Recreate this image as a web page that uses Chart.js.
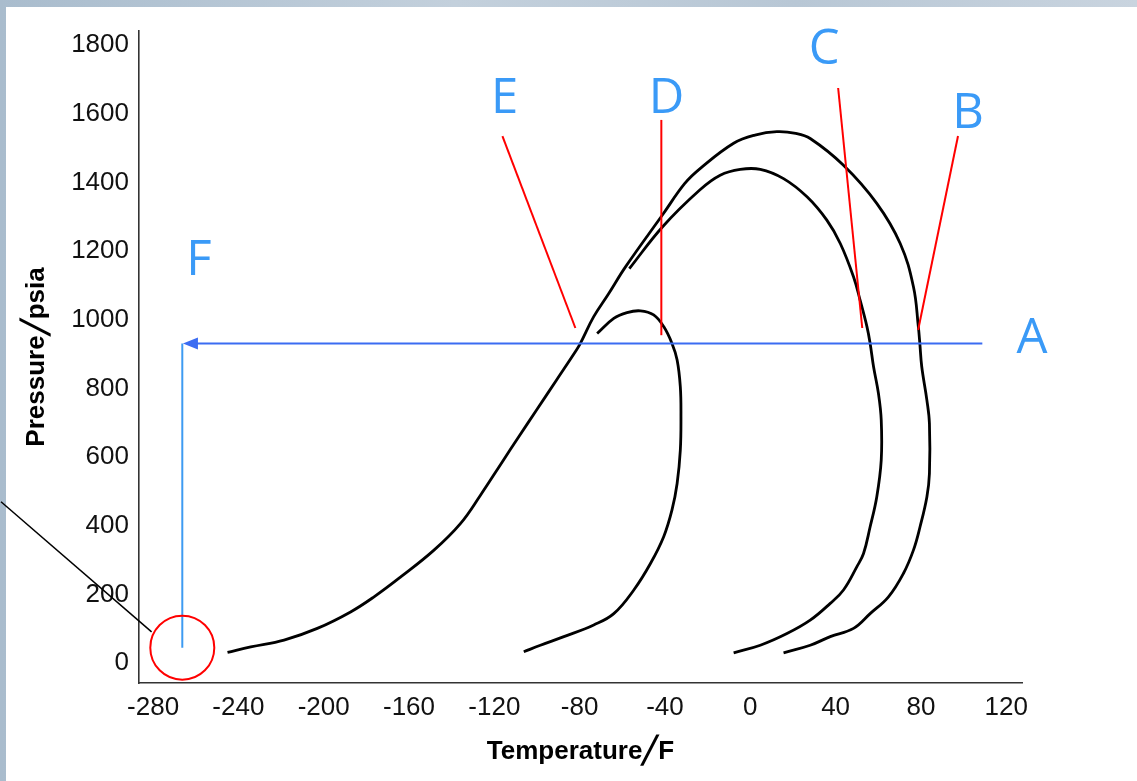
<!DOCTYPE html>
<html><head><meta charset="utf-8">
<script src="https://cdn.jsdelivr.net/npm/chart.js@4/dist/chart.umd.min.js"></script>
<style>
html,body{margin:0;padding:0;width:1137px;height:781px;overflow:hidden;}
body{background:linear-gradient(90deg,#a9bccd 0%,#c3d0dc 40%,#b8c7d5 70%,#c9d4df 100%);}
#panel{position:absolute;left:6px;top:7px;right:0;bottom:0;background:#fff;}
#c{position:absolute;left:0;top:0;}
</style></head><body>
<div id="panel"></div>
<canvas id="c" width="1137" height="781"></canvas>
<script>
// ---- tick labels ----
const xTickValues = [-280, -240, -200, -160, -120, -80, -40, 0, 40, 80, 120];
const yTickValues = [0, 200, 400, 600, 800, 1000, 1200, 1400, 1600, 1800];

// ---- curve E-B (outer envelope): temperature (F) / pressure (psia) ----
const curveEBTemp = [-245.1, -234.2, -218.6, -203, -187.4, -176.4, -163.9, -148.3, -135.8, -126.5, -116.6, -108.7, -100.2, -90.9, -81.5, -79.6, -73.4, -66.5, -58.5, -41.2, -30.7, -23.4, -7.8, 2.2, 12.5, 21.3, 28.1, 43.7, 59.3, 70.3, 76.5, 78.8, 79.5, 80.4, 82.8, 84, 84, 82.8, 79.6, 76.5, 71.8, 64.8, 56.2, 48.4, 37.5, 28.1, 15.6];
const curveEBPres = [31, 47, 67, 101, 149, 193, 251, 329, 407, 489, 583, 658, 737, 824, 912, 932, 1009, 1075, 1154, 1305, 1397, 1441, 1514, 1538, 1548, 1543, 1528, 1450, 1339, 1222, 1096, 980, 931, 863, 766, 698, 552, 484, 397, 329, 261, 193, 144, 101, 77, 52, 30];

// ---- curve C ----
const curveCTemp = [-56.7, -41.1, -23.7, -14.1, -4.7, 4.7, 15.6, 26.6, 35.9, 42.2, 48.4, 51.5, 54.7, 56.2, 57.8, 60.1, 61.4, 61.4, 59.3, 56.2, 53.1, 50, 43.7, 37.5, 28.1, 17.2, 4.7, -7.8];
const curveCPres = [1149, 1271, 1378, 1421, 1438, 1438, 1411, 1358, 1290, 1222, 1125, 1057, 980, 931, 863, 785, 708, 591, 484, 397, 319, 281, 213, 174, 125, 86, 52, 30];

// ---- curve D ----
const curveDTemp = [-71.8, -64, -57.8, -51.5, -45.3, -40.6, -36.7, -34.3, -32.8, -32.5, -32.8, -34.3, -36.7, -40.6, -46.8, -54.6, -64, -73.4, -87.4, -98.4, -106.2];
const curveDPres = [960, 1004, 1021, 1026, 1014, 980, 931, 883, 805, 718, 620, 523, 446, 368, 290, 213, 144, 111, 77, 52, 33];

// ---- annotation texts ----
const annotationLetters = ['A', 'B', 'C', 'D', 'E', 'F'];

function toPoints(ts, ps) { return ts.map((t, i) => ({ x: t, y: ps[i] })); }

const FONT = 'Liberation Sans, Arial, Helvetica, sans-serif';

// annotation geometry in data units (temperature, pressure)
const annot = {
  letters: [[132.1, 903], [102.1, 1558], [34.7, 1745], [-39.3, 1602], [-115.2, 1602], [-258.5, 1129]],
  redLines: [[-116.2, 1535, -82, 976], [-41.7, 1582, -41.7, 955], [41.2, 1675, 52.5, 976], [97.4, 1535, 78.7, 970]],
  arrowLine: [108.8, 931, -266, 931],
  fLine: [-266.3, 931, -266.3, 45],
  circle: [-266.3, 45],
  leader: [-351.3, 470, -280.7, 91]
};

const annotationPlugin = {
  id: 'annot',
  afterDatasetsDraw(chart) {
    const { ctx } = chart;
    const X = chart.scales.x, Y = chart.scales.y;
    const px = v => X.getPixelForValue(v), py = v => Y.getPixelForValue(v);
    ctx.save();
    ctx.lineCap = 'butt';
    // leader black line
    ctx.strokeStyle = '#000'; ctx.lineWidth = 1.5;
    ctx.beginPath(); ctx.moveTo(px(annot.leader[0]), py(annot.leader[1])); ctx.lineTo(px(annot.leader[2]), py(annot.leader[3])); ctx.stroke();
    // red pointer lines
    ctx.strokeStyle = '#ff0000'; ctx.lineWidth = 2;
    annot.redLines.forEach(l => {
      ctx.beginPath(); ctx.moveTo(px(l[0]), py(l[1])); ctx.lineTo(px(l[2]), py(l[3])); ctx.stroke();
    });
    // vertical F line
    ctx.strokeStyle = '#3d9bf2'; ctx.lineWidth = 2;
    ctx.beginPath(); ctx.moveTo(px(annot.fLine[0]), py(annot.fLine[1])); ctx.lineTo(px(annot.fLine[2]), py(annot.fLine[3])); ctx.stroke();
    // horizontal arrow
    const ax0 = px(annot.arrowLine[0]), ay = py(annot.arrowLine[1]), tip = px(annot.arrowLine[2]);
    ctx.strokeStyle = '#3b6cf2'; ctx.fillStyle = '#3b6cf2'; ctx.lineWidth = 2;
    ctx.beginPath(); ctx.moveTo(ax0, ay); ctx.lineTo(tip + 12, ay); ctx.stroke();
    ctx.beginPath(); ctx.moveTo(tip, ay); ctx.lineTo(tip + 15, ay - 6); ctx.lineTo(tip + 15, ay + 6); ctx.closePath(); ctx.fill();
    // red circle
    ctx.strokeStyle = '#ff0000'; ctx.lineWidth = 2;
    ctx.beginPath(); ctx.arc(px(annot.circle[0]), py(annot.circle[1]), 32, 0, Math.PI * 2); ctx.stroke();
    // letters
    ctx.fillStyle = '#3a9af7';
    ctx.font = '49px "Open Sans", "Noto Sans", sans-serif';
    ctx.textAlign = 'center'; ctx.textBaseline = 'alphabetic';
    annotationLetters.forEach((s, i) => {
      ctx.fillText(s, px(annot.letters[i][0]), py(annot.letters[i][1]));
    });
    ctx.restore();
  }
};

const curveStyle = { showLine: true, pointRadius: 0, borderColor: '#000', borderWidth: 2.8, tension: 0.4, fill: false };

new Chart(document.getElementById('c'), {
  type: 'scatter',
  data: {
    datasets: [
      Object.assign({ label: 'E-B', data: toPoints(curveEBTemp, curveEBPres) }, curveStyle),
      Object.assign({ label: 'C', data: toPoints(curveCTemp, curveCPres) }, curveStyle),
      Object.assign({ label: 'D', data: toPoints(curveDTemp, curveDPres) }, curveStyle)
    ]
  },
  options: {
    responsive: false,
    animation: false,
    events: [],
    layout: { padding: { left: 10, right: 115, top: 31, bottom: 0 } },
    plugins: { legend: { display: false }, tooltip: { enabled: false } },
    scales: {
      x: {
        type: 'linear', min: -286.6, max: 127.4,
        afterBuildTicks(s) { s.ticks = xTickValues.map(v => ({ value: v })); },
        afterFit(s) { s.height = 98; },
        grid: { display: false, drawTicks: false },
        border: { display: true, color: '#333', width: 1.6 },
        ticks: { font: { family: FONT, size: 26 }, color: '#111', padding: 9, maxRotation: 0, autoSkip: false, callback: v => String(v) },
        title: { display: true, text: 'Temperature╱F', color: '#000', font: { family: FONT, size: 26, weight: 'bold' }, padding: { top: 0, bottom: 14 } }
      },
      y: {
        type: 'linear', min: -58, max: 1841,
        afterBuildTicks(s) { s.ticks = yTickValues.map(v => ({ value: v })); },
        afterFit(s) { s.width = 129; },
        grid: { display: false, drawTicks: false },
        border: { display: true, color: '#333', width: 1.6 },
        ticks: { font: { family: FONT, size: 26 }, color: '#111', padding: 10, autoSkip: false, callback: v => String(v) },
        title: { display: true, text: 'Pressure╱psia', color: '#000', font: { family: FONT, size: 26, weight: 'bold' }, padding: { top: 11, bottom: 0 } }
      }
    }
  },
  plugins: [annotationPlugin]
});
</script></body></html>
